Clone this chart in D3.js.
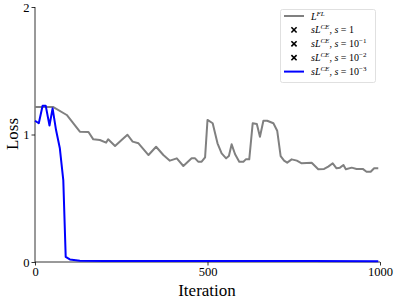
<!DOCTYPE html>
<html><head><meta charset="utf-8">
<script src="https://cdn.jsdelivr.net/npm/d3@7"></script>
<style>body{margin:0;background:#fff}svg{display:block}text{font-family:"Liberation Serif","DejaVu Serif",serif}</style>
</head><body><svg id="c" width="395" height="299"></svg>
<script>
const flIter = [0,52,92,130,155,169,188,206,212,232,251,268,283,300,329,351,372,391,411,430,454,464,473,483,493,500,515,529,541,554,562,570,580,592,604,611,621,631,643,652,662,673,691,702,712,722,731,744,759,773,802,821,838,850,863,874,884,894,901,918,932,950,961,973,983,995];
const flLoss = [1.216,1.216,1.153,1.022,1.02,0.962,0.957,0.936,0.962,0.91,0.957,0.998,0.944,0.931,0.839,0.904,0.839,0.795,0.813,0.753,0.813,0.813,0.787,0.787,0.821,1.114,1.088,0.931,0.852,0.813,0.831,0.923,0.845,0.787,0.787,0.805,0.805,1.088,1.082,0.983,1.108,1.108,1.088,1.03,0.831,0.795,0.779,0.805,0.795,0.774,0.779,0.727,0.73,0.748,0.774,0.735,0.74,0.761,0.727,0.74,0.73,0.73,0.708,0.708,0.735,0.735];
const ceIter = [0,11,22,31,42,51,61,72,82,89,101,130,200,400,600,800,995];
const ceLoss = [1.108,1.088,1.226,1.226,1.071,1.205,1.035,0.892,0.643,0.04,0.02,0.01,0.008,0.007,0.007,0.007,0.006];
const xTicks = [0,500,1000];
const yTicks = [0,1,2];
const legendLabels = [["L","FL",""],["sL","CE",", s = 1"],["sL","CE",", s = 10","−1"],["sL","CE",", s = 10","−2"],["sL","CE",", s = 10","−3"]];

const svg = d3.select("#c");
const x = d3.scaleLinear().domain([0,1000]).range([35,380]);
const y = d3.scaleLinear().domain([0,2]).range([262,7]);

const gx = svg.append("g").attr("transform","translate(0,262)").call(d3.axisBottom(x).tickValues(xTicks).tickSize(3.5).tickPadding(2).tickFormat(d3.format("d")));
const gy = svg.append("g").attr("transform","translate(35,0)").call(d3.axisLeft(y).tickValues(yTicks).tickSize(3.5).tickPadding(2).tickFormat(d3.format("d")));
[gx,gy].forEach(g=>{g.attr("font-family",null);g.select(".domain").attr("stroke","#000").attr("stroke-width",0.8);g.selectAll(".tick line").attr("stroke","#000").attr("stroke-width",0.8);g.selectAll("text").attr("font-size",12.5).attr("fill","#000").style("font-family","'Liberation Serif',serif");});
gx.select(".domain").attr("d","M35,0H380");
gy.select(".domain").attr("d","M0,262V7");

const line = d3.line().x(d=>x(d[0])).y(d=>y(d[1]));
svg.append("path").datum(flIter.map((d,i)=>[d,flLoss[i]])).attr("d",line).attr("fill","none").attr("stroke","#808080").attr("stroke-width",2).attr("stroke-linejoin","round");
svg.append("path").datum(ceIter.map((d,i)=>[d,ceLoss[i]])).attr("d",line).attr("fill","none").attr("stroke","#0000ff").attr("stroke-width",2).attr("stroke-linejoin","round");

svg.append("text").attr("x",207).attr("y",296).attr("text-anchor","middle").attr("font-size",17).text("Iteration");
svg.append("text").attr("transform","translate(18,134) rotate(-90)").attr("text-anchor","middle").attr("font-size",17).text("Loss");

// legend
const lg = svg.append("g");
lg.append("rect").attr("x",280.5).attr("y",9.5).attr("width",95).attr("height",73).attr("rx",2).attr("fill","#fff").attr("stroke","#d8d8d8").attr("stroke-width",0.8);
const rowY = i => 16 + i*13.9;
legendLabels.forEach((lab,i)=>{
  const yy = rowY(i);
  if(i===0||i===4){
    lg.append("line").attr("x1",284).attr("x2",304).attr("y1",yy).attr("y2",yy).attr("stroke",i===0?"#808080":"#0000ff").attr("stroke-width",2);
  } else {
    const cx=294, s=2.6;
    lg.append("path").attr("d",`M${cx-s},${yy-s}L${cx+s},${yy+s}M${cx-s},${yy+s}L${cx+s},${yy-s}`).attr("stroke","#000").attr("stroke-width",1.6);
  }
  const t = lg.append("text").attr("x",311).attr("y",yy+3.5).attr("font-size",10).attr("fill","#000");
  t.append("tspan").attr("font-style","italic").text(lab[0]);
  t.append("tspan").attr("font-style","italic").attr("font-size",7).attr("dy",-4).text(lab[1]);
  if(lab[2]){
    const parts = lab[2].split("s");
    t.append("tspan").attr("dy",4).text(parts[0]);
    t.append("tspan").attr("font-style","italic").text("s");
    t.append("tspan").text(parts[1]);
  }
  if(lab[3]) t.append("tspan").attr("font-size",7).attr("dy",-4).text(lab[3]);
});
</script></body></html>
